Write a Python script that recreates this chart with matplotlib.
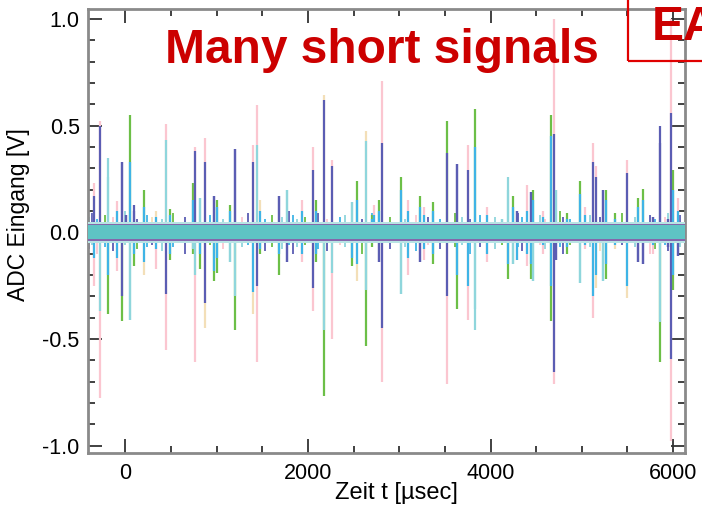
import matplotlib
matplotlib.use("Agg")
import matplotlib.pyplot as plt
from matplotlib.patches import Rectangle
from matplotlib.ticker import MultipleLocator, FuncFormatter

# ---------------- data ----------------
spike_t = [-343, -280, -190, -90, -40, 10, 45, 92, 205, 333,
           446, 490, 738, 760, 818, 873, 971, 1008, 1147, 1201,
           1402, 1446, 1475, 1683, 1767, 1938, 2052, 2085, 2172, 2263,
           2479, 2541, 2636, 2700, 2720, 2781, 2811, 3016, 3100, 3227,
           3270, 3366, 3526, 3636, 3749, 3832, 3960, 4130, 4187, 4242,
           4290, 4396, 4443, 4470, 4570, 4665, 4690, 4720, 4840, 4976,
           5030, 5125, 5150, 5234, 5270, 5365, 5500, 5620, 5672, 5780,
           5855, 5940, 5975, 6000, 6050]
up_tip = [0.23, 0.52, 0.35, 0.145, 0.33, 0.08, 0.55, 0.13, 0.20, 0.10,
          0.51, 0.11, 0.23, 0.40, 0.16, 0.44, 0.17, 0.15, 0.13, 0.39,
          0.41, 0.595, 0.15, 0.17, 0.20, 0.15, 0.40, 0.15, 0.645, 0.34,
          0.14, 0.24, 0.475, 0.08, 0.13, 0.15, 0.71, 0.26, 0.15, 0.17,
          0.12, 0.14, 0.52, 0.32, 0.41, 0.58, 0.12, 0.06, 0.26, 0.17,
          0.10, 0.22, 0.19, 0.20, 0.10, 0.548, 1.00, 0.20, 0.09, 0.24,
          0.12, 0.42, 0.31, 0.20, 0.20, 0.09, 0.34, 0.16, 0.205, 0.07,
          0.50, 0.06, 1.00, 0.29, 0.16]
up_tip_col = list("ppcpnngngt" "pggpcpnggn" "pptncppgtp" "cgtgpgpgpg"
                  "pggnpgpccg" "npngpgpcgg" "pppnggpggn" "nnpgp")
up_core = [0.17, 0.50, 0.26, 0.10, 0.33, 0.08, 0.33, 0.10, 0.12, 0.07,
           0.435, 0.08, 0.15, 0.38, 0.16, 0.33, 0.17, 0.12, 0.10, 0.39,
           0.33, 0.41, 0.10, 0.17, 0.20, 0.10, 0.29, 0.10, 0.62, 0.31,
           0.14, 0.15, 0.43, 0.06, 0.08, 0.10, 0.42, 0.20, 0.10, 0.12,
           0.08, 0.10, 0.37, 0.32, 0.29, 0.40, 0.08, 0.06, 0.20, 0.12,
           0.10, 0.10, 0.19, 0.15, 0.07, 0.45, 0.46, 0.20, 0.06, 0.18,
           0.08, 0.33, 0.26, 0.20, 0.15, 0.06, 0.28, 0.12, 0.15, 0.07,
           0.42, 0.06, 0.56, 0.20, 0.10]
up_core_col = list("nncbnnbnbb" "cbbncnnbbn" "ncbncbnbnn" "cbcbbbnbbb"
                   "bbnnnbbccb" "nbnbbbncbb" "bnnnbbnbbn" "nnnbb")
dn_tip = [-0.25, -0.775, -0.385, -0.18, -0.415, -0.05, -0.41, -0.16, -0.20, -0.17,
          -0.55, -0.13, -0.10, -0.61, -0.17, -0.45, -0.23, -0.19, -0.14, -0.46,
          -0.385, -0.61, -0.10, -0.20, -0.14, -0.14, -0.37, -0.14, -0.77, -0.50,
          -0.16, -0.23, -0.535, -0.07, -0.05, -0.14, -0.70, -0.29, -0.20, -0.14,
          -0.13, -0.15, -0.71, -0.36, -0.41, -0.46, -0.14, -0.05, -0.22, -0.15,
          -0.13, -0.16, -0.22, -0.23, -0.10, -0.415, -0.71, -0.13, -0.10, -0.24,
          -0.08, -0.40, -0.26, -0.23, -0.22, -0.08, -0.31, -0.14, -0.15, -0.10,
          -0.61, -0.07, -0.98, -0.27, -0.11]
dn_tip_col = list("ppgpgncgtp" "pggpgtggcg" "tpggnppggp" "gtggnnpcpn"
                  "pgpgpcpcgc" "ppgcpgpngc" "pptcgttnnp" "gnpgn")
dn_core = [-0.12, -0.37, -0.20, -0.12, -0.30, -0.05, -0.41, -0.10, -0.14, -0.08,
           -0.29, -0.10, -0.08, -0.20, -0.10, -0.33, -0.18, -0.12, -0.14, -0.30,
           -0.28, -0.25, -0.08, -0.10, -0.14, -0.10, -0.26, -0.10, -0.46, -0.19,
           -0.12, -0.15, -0.27, -0.05, -0.04, -0.14, -0.45, -0.29, -0.12, -0.14,
           -0.08, -0.10, -0.30, -0.20, -0.25, -0.36, -0.10, -0.05, -0.15, -0.15,
           -0.13, -0.10, -0.15, -0.23, -0.06, -0.25, -0.655, -0.13, -0.07, -0.24,
           -0.06, -0.30, -0.20, -0.23, -0.15, -0.06, -0.25, -0.14, -0.15, -0.06,
           -0.42, -0.07, -0.595, -0.20, -0.11]
dn_core_col = list("bcbbnncbbb" "nbccbnbbcc" "bnbbnbnbcc" "bbcbnnncbn"
                   "bbnbbcbcbc" "bbbcbbnnbc" "bbbcbbbnnb" "cnnbn")

# small blips just outside the noise band
small_t = [-395, -365, -310, -222, -135, -3, 128, 238, 292, 402,
           522, 653, 927, 1070, 1278, 1343, 1530, 1607, 1716, 1793,
           1837, 1881, 1968, 2110, 2209, 2351, 2406, 2592, 2702, 2899,
           3063, 3184, 3315, 3446, 3610, 3687, 3774, 3884, 4048, 4125,
           4300, 4344, 4541, 4596, 4760, 4793, 4870, 5089, 5199, 5363,
           5439, 5581, 5746, 5801, 5910, 5943, 6074]
small_up = [0.07, 0.09, 0.06, 0.08, 0.07, 0.10, 0.06, 0.08, 0.07, 0.06,
            0.09, 0.07, 0.08, 0.06, 0.07, 0.09, 0.06, 0.08, 0.07, 0.10,
            0.08, 0.06, 0.07, 0.09, 0.06, 0.07, 0.08, 0.06, 0.09, 0.07,
            0.06, 0.08, 0.07, 0.06, 0.09, 0.07, 0.06, 0.08, 0.07, 0.06,
            0.09, 0.07, 0.08, 0.06, 0.10, 0.07, 0.06, 0.08, 0.07, 0.06,
            0.09, 0.07, 0.08, 0.06, 0.07, 0.09, 0.08]
small_dn = [-0.08, -0.06, -0.10, -0.07, -0.09, -0.06, -0.08, -0.07, -0.06, -0.09,
            -0.07, -0.10, -0.06, -0.08, -0.07, -0.06, -0.09, -0.07, -0.08, -0.06,
            -0.10, -0.07, -0.06, -0.08, -0.09, -0.06, -0.07, -0.10, -0.06, -0.08,
            -0.07, -0.09, -0.06, -0.08, -0.07, -0.06, -0.10, -0.07, -0.08, -0.06,
            -0.07, -0.09, -0.06, -0.08, -0.07, -0.10, -0.06, -0.07, -0.09, -0.08,
            -0.06, -0.07, -0.10, -0.08, -0.06, -0.09, -0.07]
small_col = list("cnbgpcnbtc" "gnbcpnbgcn" "bcgnpbcnbg" "cpnbgcnbcg"
                 "nbcpgnbcnb" "gcnbpcn")

band_fuzz = 0.048       # faint outer fuzz of the baseline noise
band_edge = 0.036       # purple noise envelope lines
band_half = 0.032       # dense baseline noise band (teal)

x_ticks = [0, 2000, 4000, 6000]
y_ticks = [-1.0, -0.5, 0.0, 0.5, 1.0]
title_text = "Many short signals"
xlabel_text = "Zeit t [\u00b5sec]"
ylabel_text = "ADC Eingang [V]"

# ---------------- style ----------------
colors = {"p": "#fbc6d0", "t": "#f3dfb8", "g": "#6cbf47", "n": "#5b5db3",
          "b": "#3fb4e6", "c": "#8fd6dc"}
red = "#cc0000"

plt.rcParams["font.family"] = ["Liberation Sans", "DejaVu Sans"]

fig = plt.figure(figsize=(7.02, 5.09), dpi=100)
ax = fig.add_axes([88 / 702, 1 - 453 / 509, (685 - 88) / 702, (453 - 9) / 509])
ax.set_xlim(-410, 6130)
ax.set_ylim(-1.035, 1.047)

# small blips
ax.vlines(small_t, 0, small_up, colors=[colors[c] for c in small_col], lw=1.3, zorder=2)
ax.vlines(small_t, 0, small_dn, colors=[colors[c] for c in small_col[::-1]], lw=1.3, zorder=2)

# spikes: outer tips, then cores
ax.vlines(spike_t, 0, up_tip, colors=[colors[c] for c in up_tip_col], lw=1.6, zorder=2)
ax.vlines(spike_t, 0, dn_tip, colors=[colors[c] for c in dn_tip_col], lw=1.6, zorder=2)
ax.vlines(spike_t, 0, up_core, colors=[colors[c] for c in up_core_col], lw=1.6, zorder=3)
ax.vlines(spike_t, 0, dn_core, colors=[colors[c] for c in dn_core_col], lw=1.6, zorder=3)

# baseline noise band
ax.axhspan(-band_fuzz, band_fuzz, color="#b8e4e4", lw=0, zorder=4)
ax.axhline(band_edge, color="#7a4fa0", lw=1.2, zorder=4)
ax.axhline(-band_edge, color="#7a4fa0", lw=1.2, zorder=4)
ax.axhspan(-band_half, band_half, color="#5ec4c4", lw=0, zorder=5)

# axes styling
for s in ax.spines.values():
    s.set_color("#8a8a8a")
    s.set_linewidth(2)
ax.xaxis.set_minor_locator(MultipleLocator(500))
ax.yaxis.set_minor_locator(MultipleLocator(0.1))
ax.set_xticks(x_ticks)
ax.set_yticks(y_ticks)
ax.yaxis.set_major_formatter(FuncFormatter(lambda v, p: f"{v:.1f}"))
ax.xaxis.set_major_formatter(FuncFormatter(lambda v, p: f"{int(v)}"))
ax.tick_params(which="both", direction="in", top=True, right=True,
               color="#333333", width=1.3, labelsize=15.5)
ax.tick_params(which="major", length=10)
ax.tick_params(which="minor", length=5)
ax.tick_params(axis="x", pad=7)
ax.tick_params(axis="y", pad=6)
ax.set_xlabel(xlabel_text, fontsize=17)
ax.set_ylabel(ylabel_text, fontsize=16.5)
ax.xaxis.set_label_coords(0.517, -0.065)
ax.yaxis.set_label_coords(-0.097, 0.537)

# title and EA box
fig.text(165 / 702, 1 - 63 / 509, title_text, color=red, fontsize=34.5,
         fontweight="bold", ha="left", va="baseline")
fig.patches.append(Rectangle((628 / 702, 1 - 61 / 509), 0.2, 0.2,
                             transform=fig.transFigure, fill=False,
                             edgecolor="#e00000", lw=1.6, zorder=10))
fig.text(652 / 702, 1 - 40 / 509, "EA", color=red, fontsize=34.5,
         fontweight="bold", ha="left", va="baseline")

fig.savefig("out.png", dpi=100)
